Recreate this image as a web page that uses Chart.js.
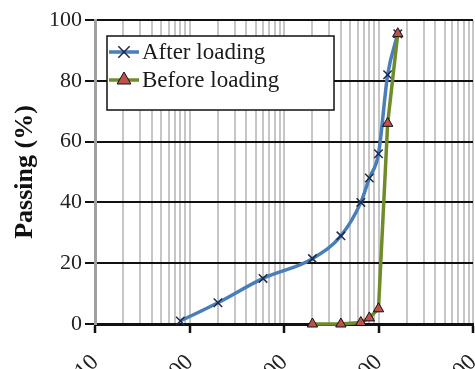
<!DOCTYPE html>
<html>
<head>
<meta charset="utf-8">
<script src="https://cdn.jsdelivr.net/npm/chart.js@4/dist/chart.umd.min.js"></script>
<style>
  html, body { margin: 0; padding: 0; background: #fff; overflow: hidden; }
  #wrap { width: 475px; height: 369px; }
</style>
</head>
<body>
<div id="wrap"><canvas id="myChart"></canvas></div>
<script>
// sieve sizes (mm) and passing (%)
const afterSizes = [0.08, 0.2, 0.6, 2, 4, 6.5, 8, 10, 12.5, 16];
const afterPassing = [1, 7, 15, 21.5, 29, 40, 48, 56, 82, 95.5];
const beforeSizes = [2, 4, 6.5, 8, 10, 12.5, 16];
const beforePassing = [0, 0, 0.5, 2, 5, 66, 95.5];

const xDecades = [0.01, 0.1, 1, 10, 100];
const xTickLabels = ["0.010", "0.100", "1.000", "10.000", "100.000"];
const yTicks = [0, 20, 40, 60, 80, 100];

(() => {
  "use strict";

  const serif = "'Liberation Serif', 'Times New Roman', serif";
  const toPoints = (xs, ys) => xs.map((x, i) => ({ x: x, y: ys[i] }));
  const isDecade = (v) => xDecades.some((d) => Math.abs(d - v) / d < 1e-6);

  // legend drawn in a white box inside the plot
  const boxLegend = {
    id: "boxLegend",
    afterDraw(chart) {
      const c = chart.ctx;
      const x0 = 107, y0 = 36, w = 227, h = 74;
      c.save();
      c.fillStyle = "#fff";
      c.fillRect(x0, y0, w, h);
      c.strokeStyle = "#111";
      c.lineWidth = 1.5;
      c.strokeRect(x0, y0, w, h);
      chart.data.datasets.forEach((ds, i) => {
        const cy = y0 + 16 + i * 28;
        c.strokeStyle = ds.borderColor;
        c.lineWidth = ds.borderWidth;
        c.beginPath();
        c.moveTo(x0 + 2, cy);
        c.lineTo(x0 + 32, cy);
        c.stroke();
        c.fillStyle = ds.pointBackgroundColor;
        c.strokeStyle = ds.pointBorderColor;
        c.lineWidth = ds.pointBorderWidth;
        Chart.helpers.drawPoint(c, {
          pointStyle: ds.pointStyle,
          radius: ds.pointRadius + 2,
          rotation: 0,
          borderWidth: ds.pointBorderWidth,
        }, x0 + 17, cy);
        c.fillStyle = "#1a1a1a";
        c.font = "23px " + serif;
        c.textBaseline = "middle";
        c.textAlign = "left";
        c.fillText(ds.label, x0 + 35, cy + 1);
      });
      c.restore();
    },
  };

  const ctx = document.getElementById("myChart");
  // eslint-disable-next-line no-unused-vars
  const myChart = new Chart(ctx, {
    type: "scatter",
    data: {
      datasets: [
        {
          label: "After loading",
          data: toPoints(afterSizes, afterPassing),
          showLine: true,
          borderColor: "#4a7ebb",
          borderWidth: 3.5,
          cubicInterpolationMode: "monotone",
          pointStyle: "crossRot",
          pointRadius: 6,
          pointBorderColor: "#1f2b45",
          pointBackgroundColor: "#1f2b45",
          pointBorderWidth: 1.5,
          clip: false,
          order: 2,
        },
        {
          label: "Before loading",
          data: toPoints(beforeSizes, beforePassing),
          showLine: true,
          borderColor: "#6f8c2c",
          borderWidth: 3.5,
          tension: 0,
          pointStyle: "triangle",
          pointRadius: 6,
          pointBackgroundColor: "#c0504d",
          pointBorderColor: "#111",
          pointBorderWidth: 1,
          clip: false,
          order: 1,
        },
      ],
    },
    options: {
      responsive: true,
      maintainAspectRatio: false,
      animation: false,
      layout: { autoPadding: false, padding: { top: 20, right: 2, left: 0, bottom: 0 } },
      plugins: {
        legend: { display: false },
        tooltip: { enabled: false },
      },
      scales: {
        x: {
          type: "logarithmic",
          min: 0.01,
          max: 100,
          afterBuildTicks(scale) {
            const ticks = [];
            xDecades.forEach((d, i) => {
              ticks.push({ value: d, major: true });
              if (i < xDecades.length - 1) {
                for (let m = 2; m <= 9; m++) ticks.push({ value: d * m });
              }
            });
            scale.ticks = ticks;
          },
          afterFit(scale) {
            scale.height = 45;
            scale.paddingLeft = 0;
            scale.paddingRight = 0;
          },
          ticks: {
            autoSkip: false,
            minRotation: 45,
            maxRotation: 45,
            padding: 16,
            color: "#222",
            font: { family: serif, size: 23 },
            callback(value) {
              const i = xDecades.findIndex((d) => Math.abs(d - value) / d < 1e-6);
              return i >= 0 ? xTickLabels[i] : "";
            },
          },
          grid: {
            color: "#c6c6c6",
            lineWidth: 2,
            tickLength: 9,
            tickWidth: 2.5,
            tickColor: (c) => (c.tick && isDecade(c.tick.value) ? "#111" : "rgba(0,0,0,0)"),
          },
          border: { color: "#111", width: 3 },
        },
        y: {
          min: 0,
          max: 100,
          afterBuildTicks(scale) {
            scale.ticks = yTicks.map((v) => ({ value: v }));
          },
          afterFit(scale) {
            scale.width = 95;
          },
          ticks: {
            padding: 3,
            color: "#222",
            font: { family: serif, size: 22 },
          },
          title: {
            display: true,
            text: "Passing (%)",
            color: "#111",
            font: { family: serif, size: 26, weight: "bold" },
            padding: { top: 10, bottom: 0 },
          },
          grid: {
            color: "#111",
            lineWidth: 2,
            tickLength: 10,
            tickColor: "#111",
            tickWidth: 2,
          },
          border: { color: "#a0a0a0", width: 3 },
        },
      },
    },
    plugins: [boxLegend],
  });
})();
</script>
</body>
</html>
